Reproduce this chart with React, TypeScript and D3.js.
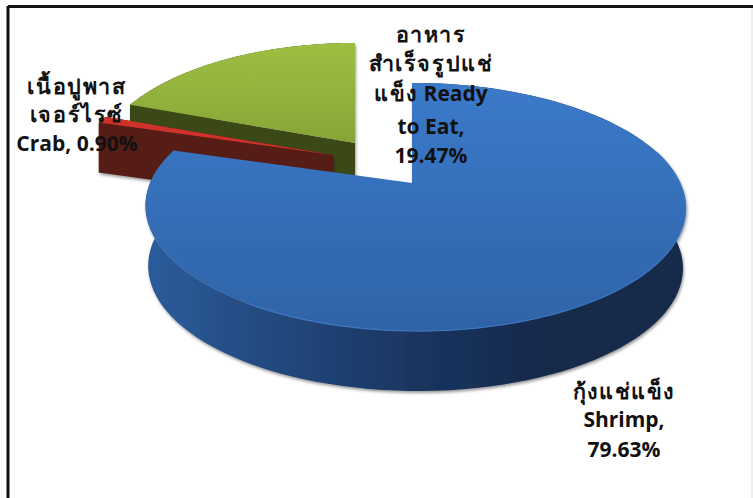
import * as d3 from "d3"

const categories = ["กุ้งแช่แข็ง Shrimp", "เนื้อปูพาสเจอร์ไรซ์ Crab", "อาหารสำเร็จรูปแช่แข็ง Ready to Eat"]
const shares = [79.63, 0.9, 19.47]

const labelLines = [
  ["กุ้งแช่แข็ง", "Shrimp,", "79.63%"],
  ["เนื้อปูพาส", "เจอร์ไรซ์", "Crab, 0.90%"],
  ["อาหาร", "สำเร็จรูปแช่", "แข็ง Ready", "to Eat,", "19.47%"],
]

const width = 753
const height = 498
const perspective = 0.1935
const tilt = 119.4

// one entry per slice: apex after exploding, rim centre x, width, wall depth, bottom rim shrink
const layout = [
  { x: 412, y: 183, cx: 415, lean: 3, rx: 265, depth: 60, shrink: 0.99 },
  { x: 333, y: 155, cx: 333, lean: 0, rx: 258, depth: 50, shrink: 1 },
  { x: 355, y: 143, cx: 355, lean: 0, rx: 255, depth: 55, shrink: 1 },
]
const labelPos = [
  { x: 624, ys: [399, 427, 457] },
  { x: 77, ys: [94, 122, 151] },
  { x: 431, ys: [42, 71, 101, 134, 163] },
]

const topFill = ["url(#blueTop)", "#cf322c", "url(#greenTop)"]
const cutFill = ["#1a3560", "#561a14", "#3a4a14"]

const arcs = d3.pie<number>().sort(null)(shares)

function project(i: number, angle: number): [number, number] {
  const u = Math.sin(angle)
  const v = Math.cos(angle)
  const s = 1 / (1 + perspective * v)
  const l = layout[i]
  return [l.cx - l.lean * v + l.rx * u * s, l.y - tilt * v * s]
}

function rimPoints(i: number) {
  const a = arcs[i]
  const angle = d3.scaleLinear().domain([0, 120]).range([a.startAngle, a.endAngle])
  return d3.range(121).map((k) => project(i, angle(k)))
}

const line = d3.line()

// Thai runs are spaced out a little to reach the width of the original face
function runs(t: string) {
  return t.match(/[\u0E00-\u0E7F]+|[^\u0E00-\u0E7F]+/g) ?? []
}

export default function App() {
  return (
    <svg
      width={width}
      height={height}
      style={{ position: "absolute", left: 0, top: 0, background: "#fff" }}
      fontFamily="'Open Sans', 'Noto Sans', sans-serif"
    >
      <defs>
        <linearGradient id="blueTop" x1="0" y1="0" x2="0" y2="1">
          <stop offset="0" stopColor="#3b7aca" />
          <stop offset="1" stopColor="#2f63a6" />
        </linearGradient>
        <linearGradient id="greenTop" x1="0" y1="0" x2="0" y2="1">
          <stop offset="0" stopColor="#9dbf42" />
          <stop offset="1" stopColor="#87a537" />
        </linearGradient>
        <linearGradient id="blueWall" gradientUnits="userSpaceOnUse" x1="146" y1="0" x2="685" y2="0">
          <stop offset="0" stopColor="#2c5c9c" />
          <stop offset="0.22" stopColor="#234a80" />
          <stop offset="0.5" stopColor="#1a3560" />
          <stop offset="0.75" stopColor="#15294a" />
          <stop offset="1" stopColor="#15294a" />
        </linearGradient>
        <filter id="shadow" x="-5%" y="-5%" width="110%" height="110%">
          <feDropShadow dx="1" dy="2" stdDeviation="1.6" floodColor="#000" floodOpacity="0.4" />
        </filter>
      </defs>

      <line x1={8} y1={6} x2={8} y2={height} stroke="#111" strokeWidth={3} />
      <line x1={8} y1={6.5} x2={width} y2={6.5} stroke="#111" strokeWidth={3} />
      <line x1={752} y1={8} x2={752} y2={height} stroke="#ddd" />

      {[2, 1, 0].map((i) => {
        const rim = rimPoints(i)
        const l = layout[i]
        const apex: [number, number] = [l.x, l.y]
        const down = (p: [number, number]): [number, number] => [
          l.cx + (p[0] - l.cx) * l.shrink,
          p[1] + l.depth,
        ]
        const wall = [...rim, ...rim.slice().reverse().map(down)]
        const start = rim[0]
        const end = rim[rim.length - 1]
        const front = rim.filter((p, k) => k > 30 && k < 90)
        return (
          <g key={categories[i]} filter="url(#shadow)">
            <path d={line(wall) + "Z"} fill={i === 0 ? "url(#blueWall)" : cutFill[i]} />
            {i !== 0 && (
              <>
                <path d={line([apex, end, down(end), down(apex)]) + "Z"} fill={cutFill[i]} />
                <path d={line([apex, start, down(start), down(apex)]) + "Z"} fill={cutFill[i]} />
              </>
            )}
            <path d={line([apex, ...rim]) + "Z"} fill={topFill[i]} />
            {i === 0 && <path d={line(front) ?? ""} fill="none" stroke="#3d78c2" strokeWidth={1.2} />}
          </g>
        )
      })}

      {labelLines.map((rows, i) =>
        rows.map((t, j) => (
          <text
            key={t}
            x={labelPos[i].x}
            y={labelPos[i].ys[j]}
            textAnchor="middle"
            fontSize={21}
            fontWeight="bold"
            fill="#111"
          >
            {runs(t).map((r, k) => {
              const thai = /[\u0E00-\u0E7F]/.test(r)
              return (
                <tspan key={k} fontSize={thai ? 21.5 : 21} letterSpacing={thai ? 1.6 : 0}>
                  {r}
                </tspan>
              )
            })}
          </text>
        ))
      )}
    </svg>
  )
}
